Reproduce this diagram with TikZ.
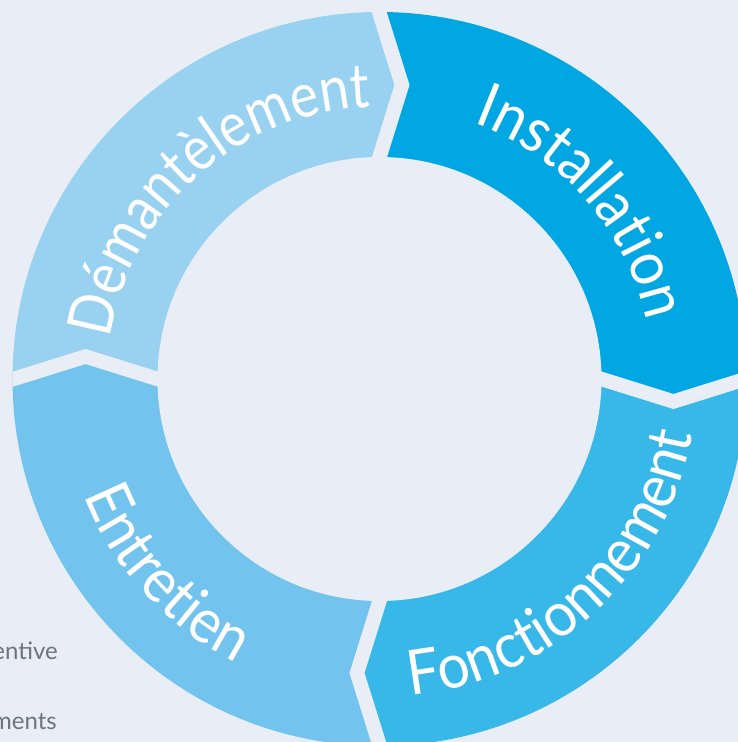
\documentclass[tikz,border=0pt]{standalone}
\usepackage{fontspec}
\usetikzlibrary{decorations.text}
\newfontfamily\ringfont[FakeStretch=0.92]{Lato}
\newfontfamily\ringfontn[FakeStretch=0.86]{Lato}
\newfontfamily\sidefont{Lato}
\definecolor{bgc}{HTML}{E9EEF6}
\definecolor{cInst}{HTML}{00A7E3}
\definecolor{cFonc}{HTML}{38B8E9}
\definecolor{cEntr}{HTML}{72C3EE}
\definecolor{cDema}{HTML}{99D1F1}
\definecolor{sidegray}{HTML}{6A757D}
\tikzset{
  gapline/.style={draw=bgc, line width=14.4pt, line join=miter, miter limit=10},
  ringtext/.style={decorate, decoration={text along path, text align=center,
     text={|\ringfont\fontsize{62}{70}\selectfont\color{white}|#1}}},
  ringtextn/.style={decorate, decoration={text along path, text align=center,
     text={|\ringfontn\fontsize{62}{70}\selectfont\color{white}|#1}}},
  sidetext/.style={font=\sidefont\fontsize{24}{28}\selectfont, text=sidegray, inner sep=0pt}
}
\begin{document}
\begin{tikzpicture}[x=1pt,y=1pt]
\fill[bgc] (-379.5,-363) rectangle (358.5,379);
\useasboundingbox (-379.5,-363) rectangle (358.5,379);
\begin{scope}
  \clip (0,0) circle[radius=367];
  \fill[cInst] (0,0) -- (0,222) -- (22.5,294) -- (0,367) -- (0,500) -- (500,500) -- (500,0) -- (367,0) -- (294,-22.5) -- (222,0) -- cycle;
  \fill[cFonc] (0,0) -- (222,0) -- (294,-22.5) -- (367,0) -- (500,0) -- (500,-500) -- (0,-500) -- (0,-367) -- (-22.5,-294) -- (0,-222) -- cycle;
  \fill[cEntr] (0,0) -- (0,-222) -- (-22.5,-294) -- (0,-367) -- (0,-500) -- (-500,-500) -- (-500,0) -- (-367,0) -- (-294,22.5) -- (-222,0) -- cycle;
  \fill[cDema] (0,0) -- (-222,0) -- (-294,22.5) -- (-367,0) -- (-500,0) -- (-500,500) -- (0,500) -- (0,367) -- (22.5,294) -- (0,222) -- cycle;
  \foreach \a in {0,90,180,270}{
    \draw[gapline, rotate=\a] (-13.1,180) -- (22.5,294) -- (-16.9,420);
  }
\end{scope}
\fill[bgc] (0,0) circle[radius=222];
\path[ringtext=Installation] (91:273) arc[start angle=91, end angle=-9, radius=273];
\path[ringtextn=Démantèlement] (181.6:272) arc[start angle=181.6, end angle=81.6, radius=272];
\path[ringtext=Fonctionnement] (-97.2:318) arc[start angle=-97.2, end angle=2.8, radius=318];
\path[ringtext=Entretien] (172.3:318) arc[start angle=172.3, end angle=272.3, radius=318];
\node[sidetext, anchor=base east] (s1) at (-321.5,-280) {entive};
\node[sidetext, anchor=base east] (s2) at (-322.5,-350) {ments};
\end{tikzpicture}
\end{document}
